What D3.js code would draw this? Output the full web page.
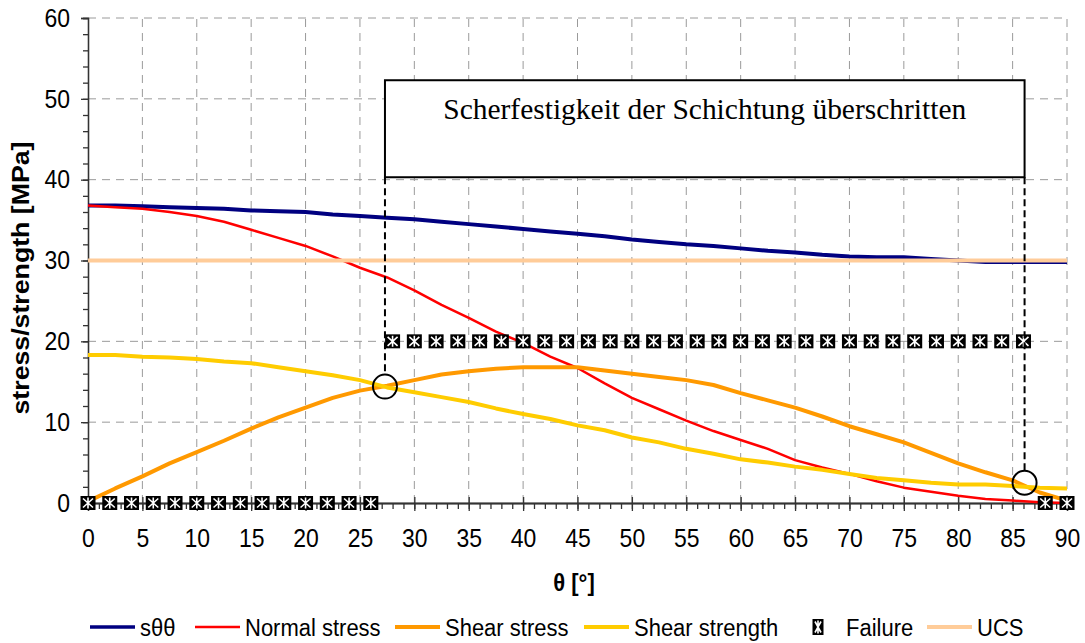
<!DOCTYPE html>
<html>
<head>
<meta charset="utf-8">
<script src="https://cdn.jsdelivr.net/npm/d3@7"></script>
<style>
  body { margin: 0; background: #fff; }
  svg { display: block; font-family: "Liberation Sans", Arial, sans-serif; }
</style>
</head>
<body>
<svg id="chart"></svg>
<script>
// angle θ in degrees, every 2.5°
let angles = d3.range(0, 90.01, 2.5)

let sThetaTheta = [36.8, 36.8, 36.7, 36.6, 36.5, 36.4, 36.2, 36.1, 36.0, 35.7, 35.5, 35.3, 35.1,
    34.8, 34.5, 34.2, 33.9, 33.6, 33.3, 33.0, 32.6, 32.3, 32.0, 31.8, 31.5, 31.2, 31.0, 30.7,
    30.5, 30.4, 30.4, 30.2, 30.0, 29.8, 29.8, 29.8, 29.8]

let normalStress = [36.8, 36.6, 36.4, 36.0, 35.5, 34.8, 33.8, 32.8, 31.8, 30.5, 29.1, 27.9, 26.3,
    24.5, 22.9, 21.2, 19.8, 18.1, 16.7, 14.8, 13.0, 11.6, 10.2, 8.9, 7.8, 6.7, 5.3, 4.4,
    3.6, 2.7, 1.9, 1.4, 0.9, 0.5, 0.3, 0.1, 0.0]

let shearStress = [0.2, 1.8, 3.3, 4.9, 6.3, 7.7, 9.2, 10.6, 11.8, 13.0, 13.9, 14.5, 15.2,
    15.9, 16.3, 16.6, 16.8, 16.8, 16.8, 16.4, 16.0, 15.6, 15.2, 14.6, 13.6, 12.7, 11.8, 10.7,
    9.5, 8.5, 7.5, 6.2, 4.9, 3.8, 2.8, 1.3, 0.3]

let shearStrength = [18.3, 18.3, 18.1, 18.0, 17.8, 17.5, 17.3, 16.8, 16.3, 15.8, 15.2, 14.3, 13.7,
    13.1, 12.5, 11.7, 11.0, 10.4, 9.6, 9.0, 8.1, 7.5, 6.7, 6.1, 5.4, 5.0, 4.5, 4.1,
    3.6, 3.1, 2.8, 2.5, 2.3, 2.3, 2.1, 1.9, 1.8]

let ucsAngles = [0, 90]
let ucsValues = [30, 30]

// failure flag: 0 = no failure, 20 = failure
let failureAngles = d3.range(0, 90.01, 2)
let failureValues = [0, 0, 0, 0, 0, 0, 0, 0, 0, 0, 0, 0, 0, 0,
    20, 20, 20, 20, 20, 20, 20, 20, 20, 20, 20, 20, 20, 20, 20,
    20, 20, 20, 20, 20, 20, 20, 20, 20, 20, 20, 20, 20, 20, 20, 0, 0]

// intersections of shear stress and shear strength
let crossAngles = [27.3, 86.1]
let crossValues = [14.4, 2.5]

let xTicks = d3.range(0, 91, 5)
let yTicks = d3.range(0, 61, 10)

let boxText = 'Scherfestigkeit der Schichtung überschritten'
let boxTop = 52.3
let boxBottom = 40.3

let legendLabels = ['sθθ', 'Normal stress', 'Shear stress', 'Shear strength', 'Failure', 'UCS']
let colors = ['#000080', '#ff0000', '#ff9900', '#ffcc00', '#000000', '#ffcc99']

let width = 1085
let height = 643
let stretch = 1.12   // the original text is a bit taller than wide

let svg = d3.select('#chart')
    .attr('width', width)
    .attr('height', height)

let xScale = d3.scaleLinear().domain([0, 90]).range([88, 1067])
let yScale = d3.scaleLinear().domain([0, 60]).range([503, 18])

// grid
svg.append('g').selectAll('line')
    .data(xTicks.filter(d => d > 0))
    .enter().append('line')
    .attr('x1', d => xScale(d)).attr('x2', d => xScale(d))
    .attr('y1', yScale(0)).attr('y2', yScale(60))
    .attr('stroke', '#9a9a9a').attr('stroke-dasharray', '8,6')

svg.append('g').selectAll('line')
    .data(yTicks.filter(d => d > 0))
    .enter().append('line')
    .attr('x1', xScale(0)).attr('x2', xScale(90))
    .attr('y1', d => yScale(d)).attr('y2', d => yScale(d))
    .attr('stroke', '#9a9a9a').attr('stroke-dasharray', '8,6')

// axes
let axisColor = '#333'

svg.append('g')
    .attr('transform', 'translate(' + xScale(0) + ',0)')
    .call(d3.axisLeft(yScale).tickValues(d3.range(0, 61, 2)).tickSize(5).tickFormat(''))
svg.append('g')
    .attr('transform', 'translate(' + xScale(0) + ',0)')
    .call(d3.axisLeft(yScale).tickValues(yTicks).tickSize(7).tickPadding(11))

svg.append('g')
    .attr('transform', 'translate(0,' + yScale(0) + ')')
    .call(d3.axisBottom(xScale).tickValues(d3.range(0, 91, 1)).tickSize(6).tickFormat(''))
svg.append('g')
    .attr('transform', 'translate(0,' + yScale(0) + ')')
    .call(d3.axisBottom(xScale).tickValues(xTicks).tickSize(-6).tickFormat(''))
svg.append('g')
    .attr('transform', 'translate(0,' + yScale(0) + ')')
    .call(d3.axisBottom(xScale).tickValues(xTicks).tickSize(8).tickPadding(15))

svg.selectAll('.domain, .tick line')
    .attr('stroke', axisColor)
    .attr('stroke-width', 1.3)
svg.selectAll('.tick text')
    .attr('font-family', '"Liberation Sans", Arial, sans-serif')
    .attr('font-size', 23)
    .attr('fill', '#000')
    .attr('transform', 'scale(1,' + stretch + ')')

// axis titles
svg.append('text')
    .attr('transform', 'translate(29,' + 278 + ') rotate(-90)')
    .attr('text-anchor', 'middle')
    .attr('font-size', 23)
    .attr('font-weight', 'bold')
    .attr('textLength', 273)
    .attr('lengthAdjust', 'spacingAndGlyphs')
    .text('stress/strength [MPa]')

svg.append('text')
    .attr('transform', 'translate(574,591) scale(1,' + stretch + ')')
    .attr('text-anchor', 'middle')
    .attr('font-size', 22)
    .attr('font-weight', 'bold')
    .text('θ [°]')

// series lines
let line = d3.line()
    .x(d => xScale(d[0]))
    .y(d => yScale(d[1]))

let series = [
    { values: sThetaTheta, color: colors[0], w: 4 },
    { values: normalStress, color: colors[1], w: 2.5 },
    { values: shearStress, color: colors[2], w: 4 },
    { values: shearStrength, color: colors[3], w: 4 }
]

series.forEach(s => {
    svg.append('path')
        .datum(angles.map((a, i) => [a, s.values[i]]))
        .attr('d', line)
        .attr('fill', 'none')
        .attr('stroke', s.color)
        .attr('stroke-width', s.w)
        .attr('stroke-linejoin', 'round')
})

// failure markers
let drawMarker = (g, cx, cy, w, h) => {
    g.append('rect')
        .attr('x', cx - w / 2).attr('y', cy - h / 2)
        .attr('width', w).attr('height', h)
        .attr('fill', '#000')
    let p = 'M' + (cx - w / 2 + 2.5) + ',' + (cy - h / 2 + 2.5) + 'L' + (cx + w / 2 - 2.5) + ',' + (cy + h / 2 - 2.5) +
        'M' + (cx + w / 2 - 2.5) + ',' + (cy - h / 2 + 2.5) + 'L' + (cx - w / 2 + 2.5) + ',' + (cy + h / 2 - 2.5) +
        'M' + cx + ',' + (cy - h / 2 + 1.5) + 'L' + cx + ',' + (cy + h / 2 - 1.5)
    g.append('path')
        .attr('d', p)
        .attr('stroke', '#fff')
        .attr('stroke-width', 1.6)
}

let failG = svg.append('g')
failureAngles.forEach((a, i) => {
    drawMarker(failG, xScale(a), yScale(failureValues[i]), 15, 14)
})

// UCS
svg.append('path')
    .datum(ucsAngles.map((a, i) => [a, ucsValues[i]]))
    .attr('d', line)
    .attr('fill', 'none')
    .attr('stroke', colors[5])
    .attr('stroke-width', 4)

// annotation: dashed drop lines, circles, box
crossAngles.forEach((a, i) => {
    svg.append('line')
        .attr('x1', xScale(a)).attr('x2', xScale(a))
        .attr('y1', yScale(boxBottom)).attr('y2', yScale(crossValues[i]) - 12)
        .attr('stroke', '#000')
        .attr('stroke-width', 2)
        .attr('stroke-dasharray', '7,4')
    svg.append('circle')
        .attr('cx', xScale(a)).attr('cy', yScale(crossValues[i]))
        .attr('r', 12)
        .attr('fill', 'none')
        .attr('stroke', '#000')
        .attr('stroke-width', 2)
})

svg.append('rect')
    .attr('x', xScale(crossAngles[0]))
    .attr('y', yScale(boxTop))
    .attr('width', xScale(crossAngles[1]) - xScale(crossAngles[0]))
    .attr('height', yScale(boxBottom) - yScale(boxTop))
    .attr('fill', '#fff')
    .attr('stroke', '#000')
    .attr('stroke-width', 2)

svg.append('text')
    .attr('x', (xScale(crossAngles[0]) + xScale(crossAngles[1])) / 2)
    .attr('y', 119)
    .attr('text-anchor', 'middle')
    .attr('font-family', '"Liberation Serif", "Times New Roman", serif')
    .attr('font-size', 29)
    .attr('textLength', 523)
    .attr('lengthAdjust', 'spacingAndGlyphs')
    .text(boxText)

// legend
let legendY = 627
let legendX = [90, 195, 395, 584, 812, 927]
let legendW = [3.5, 2.5, 4, 4, 0, 4]
let legendText = (x, label) => {
    svg.append('text')
        .attr('transform', 'translate(' + x + ',' + (legendY + 9) + ') scale(1,' + stretch + ')')
        .attr('font-size', 22)
        .text(label)
}
legendLabels.forEach((label, i) => {
    let x0 = legendX[i]
    if (label === 'Failure') {
        drawMarker(svg, x0 + 6, legendY, 11, 16)
        legendText(x0 + 34, label)
    } else {
        svg.append('line')
            .attr('x1', x0).attr('x2', x0 + 45)
            .attr('y1', legendY).attr('y2', legendY)
            .attr('stroke', colors[i])
            .attr('stroke-width', legendW[i])
        legendText(x0 + 50, label)
    }
})
</script>
</body>
</html>
